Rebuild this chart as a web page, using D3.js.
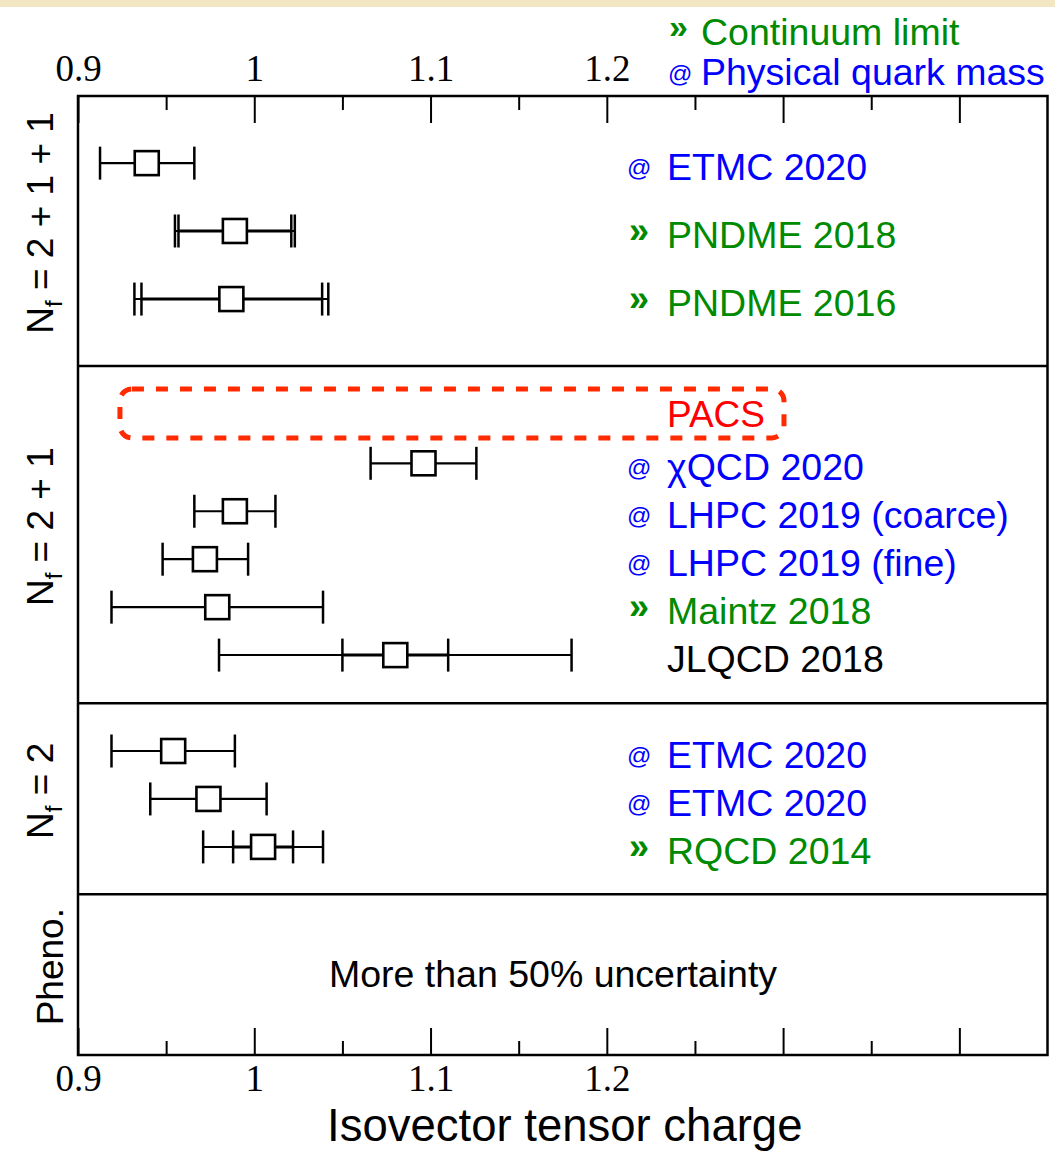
<!DOCTYPE html>
<html>
<head>
<meta charset="utf-8">
<script src="https://cdn.jsdelivr.net/npm/d3@7"></script>
<style>
  html, body { margin: 0; padding: 0; background: #ffffff; }
  svg { display: block; }
</style>
</head>
<body>
<div id="chart"></div>
<script>
// ---------------- data ----------------
const groupNames = ["N|f| = 2 + 1 + 1", "N|f| = 2 + 1", "N|f| = 2", "Pheno."];
const groupEdges = [0, 5.63, 12.665, 16.65, 20];

const labels  = ["ETMC 2020", "PNDME 2018", "PNDME 2016", "χQCD 2020", "LHPC 2019 (coarce)",
                 "LHPC 2019 (fine)", "Maintz 2018", "JLQCD 2018", "ETMC 2020", "ETMC 2020", "RQCD 2014"];
const markers = ["@", "»", "»", "@", "@", "@", "»", "", "@", "@", "»"];
const rows    = [1.40, 2.815, 4.235, 7.66, 8.66, 9.66, 10.66, 11.66, 13.66, 14.66, 15.66];
const central = [0.939, 0.989, 0.987, 1.096, 0.989, 0.972, 0.979, 1.080, 0.954, 0.974, 1.005];
const innerLo = [0.9125, 0.957, 0.936, 1.066, 0.966, 0.948, 0.919, 1.050, 0.919, 0.941, 0.988];
const innerHi = [0.966, 1.021, 1.0385, 1.126, 1.012, 0.9965, 1.039, 1.110, 0.989, 1.007, 1.022];
const outerLo = [null, 0.955, 0.932, null, null, null, null, 0.980, null, null, 0.971];
const outerHi = [null, 1.023, 1.042, null, null, null, null, 1.180, null, null, 1.039];

const xMajorTicks = [0.9, 1.0, 1.1, 1.2, 1.3, 1.4];
const xMinorTicks = [0.95, 1.05, 1.15, 1.25, 1.35];
const xTickLabels = ["0.9", "1", "1.1", "1.2"];

const pacsLabel = "PACS";
const pacsBox = { x0: 0.9238, x1: 1.3005, y0: 6.11, y1: 7.13 };
const phenoNote = "More than 50% uncertainty";
const legendItems = [
  { marker: "»", text: "Continuum limit", kind: "cont" },
  { marker: "@", text: "Physical quark mass", kind: "phys" }
];

// ---------------- setup ----------------
const W = 1055, H = 1151;
const SANS = "'Liberation Sans', Arial, Helvetica, sans-serif";
const SERIF = "'Liberation Serif', 'Times New Roman', serif";
const BLUE = "#0000ff", GREEN = "#008a00", RED = "#ff0000";

const svg = d3.select("#chart").append("svg").attr("width", W).attr("height", H);

// beige strip at the very top
svg.append("rect").attr("x", 0).attr("y", 0).attr("width", W).attr("height", 7).attr("fill", "#f3e6c2");

const x = d3.scaleLinear().domain([0.9, 1.45]).range([78, 1047.5]);
const y = d3.scaleLinear().domain([0, 20]).range([96, 1055]);

// frame
svg.append("rect")
  .attr("x", x(0.9)).attr("y", y(0))
  .attr("width", x(1.45) - x(0.9)).attr("height", y(20) - y(0))
  .attr("fill", "#fff").attr("stroke", "#000").attr("stroke-width", 2.5);

// dividers
svg.selectAll("line.div").data(groupEdges.slice(1, -1)).enter().append("line")
  .attr("class", "div")
  .attr("x1", x(0.9)).attr("x2", x(1.45))
  .attr("y1", d => y(d)).attr("y2", d => y(d))
  .attr("stroke", "#000").attr("stroke-width", 2.5);

// axes
function styleAxis(g) {
  g.select(".domain").remove();
  g.selectAll(".tick line").attr("stroke", "#000").attr("stroke-width", 2);
  g.selectAll(".tick text").attr("font-family", SERIF).attr("font-size", 37).attr("fill", "#000");
}
const fmt = d => { const i = xMajorTicks.indexOf(d); return i >= 0 && i < xTickLabels.length ? xTickLabels[i] : ""; };

svg.append("g").attr("transform", `translate(0,${y(0)})`)
  .call(d3.axisTop(x).tickValues(xMajorTicks).tickSize(-27).tickPadding(15).tickFormat(fmt))
  .call(styleAxis);
svg.append("g").attr("transform", `translate(0,${y(0)})`)
  .call(d3.axisTop(x).tickValues(xMinorTicks).tickSize(-14).tickFormat(""))
  .call(styleAxis);
svg.append("g").attr("transform", `translate(0,${y(20)})`)
  .call(d3.axisBottom(x).tickValues(xMajorTicks).tickSize(-27).tickPadding(10).tickFormat(fmt))
  .call(styleAxis);
svg.append("g").attr("transform", `translate(0,${y(20)})`)
  .call(d3.axisBottom(x).tickValues(xMinorTicks).tickSize(-14).tickFormat(""))
  .call(styleAxis);

// x-axis title
svg.append("text")
  .attr("x", (x(0.9) + x(1.45)) / 2 + 2).attr("y", 1141)
  .attr("text-anchor", "middle")
  .attr("font-family", SANS).attr("font-size", 45.5).attr("fill", "#000")
  .text("Isovector tensor charge");

// group labels (rotated)
groupNames.forEach((name, gi) => {
  const cy = y((groupEdges[gi] + groupEdges[gi + 1]) / 2) - 8;
  const parts = name.split("|");
  const hasSub = parts.length > 1;
  const t = svg.append("text")
    .attr("transform", `translate(${hasSub ? 53 : 63},${cy}) rotate(-90)`)
    .attr("text-anchor", "middle")
    .attr("font-family", SANS).attr("font-size", 37).attr("fill", "#000");
  if (hasSub) {
    t.append("tspan").text(parts[0]);
    t.append("tspan").attr("font-size", 24).attr("dy", 9).text(parts[1]);
    t.append("tspan").attr("dy", -9).text(parts[2]);
  } else {
    t.text(name);
  }
});

// PACS dashed box
svg.append("rect")
  .attr("x", x(pacsBox.x0)).attr("y", y(pacsBox.y0))
  .attr("width", x(pacsBox.x1) - x(pacsBox.x0)).attr("height", y(pacsBox.y1) - y(pacsBox.y0))
  .attr("rx", 12).attr("ry", 12)
  .attr("fill", "none").attr("stroke", "#ff2a00").attr("stroke-width", 5)
  .attr("stroke-dasharray", "12,12");
svg.append("text")
  .attr("x", 667).attr("y", (y(pacsBox.y0) + y(pacsBox.y1)) / 2 + 13.5)
  .attr("font-family", SANS).attr("font-size", 37).attr("fill", RED)
  .text(pacsLabel);

// error bars
const CAP = 16.5, BOX = 24;
const data = labels.map((l, i) => ({
  label: l, marker: markers[i], row: rows[i], c: central[i],
  lo: innerLo[i], hi: innerHi[i], olo: outerLo[i], ohi: outerHi[i]
}));

const bars = svg.append("g");
data.forEach(d => {
  const yy = y(d.row);
  const hasOuter = d.olo != null;
  if (hasOuter) {
    bars.append("line").attr("x1", x(d.olo)).attr("x2", x(d.ohi)).attr("y1", yy).attr("y2", yy)
      .attr("stroke", "#000").attr("stroke-width", 2);
    [d.olo, d.ohi].forEach(v => bars.append("line").attr("x1", x(v)).attr("x2", x(v))
      .attr("y1", yy - CAP).attr("y2", yy + CAP).attr("stroke", "#000").attr("stroke-width", 2.5));
  }
  bars.append("line").attr("x1", x(d.lo)).attr("x2", x(d.hi)).attr("y1", yy).attr("y2", yy)
    .attr("stroke", "#000").attr("stroke-width", hasOuter ? 3 : 2.2);
  [d.lo, d.hi].forEach(v => bars.append("line").attr("x1", x(v)).attr("x2", x(v))
    .attr("y1", yy - CAP).attr("y2", yy + CAP).attr("stroke", "#000").attr("stroke-width", 2.5));
  bars.append("rect").attr("x", x(d.c) - BOX / 2).attr("y", yy - BOX / 2)
    .attr("width", BOX).attr("height", BOX)
    .attr("fill", "#fff").attr("stroke", "#000").attr("stroke-width", 2.6);
});

// row labels
data.forEach(d => {
  const base = y(d.row) + 17;
  const col = d.marker === "@" ? BLUE : d.marker === "»" ? GREEN : "#000";
  if (d.marker === "@") {
    svg.append("text").attr("x", 627).attr("y", base - 4)
      .attr("font-family", SANS).attr("font-size", 24).attr("fill", col).text("@");
  } else if (d.marker === "»") {
    svg.append("text").attr("x", 629).attr("y", base - 5)
      .attr("font-family", SANS).attr("font-weight", "bold").attr("font-size", 36).attr("fill", col).text("»");
  }
  svg.append("text").attr("x", 667).attr("y", base)
    .attr("font-family", SANS).attr("font-size", 37.5).attr("fill", col).text(d.label);
});

// pheno note
svg.append("text")
  .attr("x", 553).attr("y", (y(groupEdges[3]) + y(groupEdges[4])) / 2 + 12)
  .attr("text-anchor", "middle")
  .attr("font-family", SANS).attr("font-size", 37.5).attr("fill", "#000")
  .text(phenoNote);

// legend
legendItems.forEach((it, i) => {
  const base = 45 + i * 40;
  const col = it.kind === "phys" ? BLUE : GREEN;
  if (it.marker === "@") {
    svg.append("text").attr("x", 668).attr("y", base - 3)
      .attr("font-family", SANS).attr("font-size", 24).attr("fill", col).text("@");
  } else {
    svg.append("text").attr("x", 669).attr("y", base - 7)
      .attr("font-family", SANS).attr("font-weight", "bold").attr("font-size", 34).attr("fill", col).text("»");
  }
  svg.append("text").attr("x", 701).attr("y", base)
    .attr("font-family", SANS).attr("font-size", 37.5).attr("fill", col).text(it.text);
});
</script>
</body>
</html>
